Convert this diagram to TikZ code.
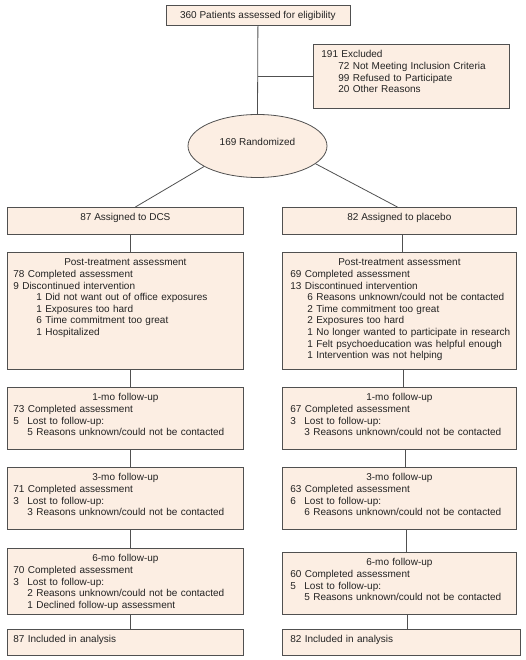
\documentclass[tikz,border=0pt]{standalone}
\usepackage{fontspec}
\setmainfont{Liberation Sans}
\usetikzlibrary{shapes.geometric}
\definecolor{boxfill}{RGB}{252,238,227}
\definecolor{edge}{RGB}{80,80,80}
\definecolor{ink}{RGB}{35,35,35}
\tikzset{
  box/.style={rectangle,draw=edge,fill=boxfill,line width=0.8pt,anchor=north west,
    inner xsep=6pt,inner ysep=0pt,align=left,text height=13.5pt,text=ink,
    font=\fontsize{10}{11.6}\selectfont},
  link/.style={draw=edge,line width=0.8pt}
}
\begin{document}
\begin{tikzpicture}[x=1pt,y=-1pt]
  \useasboundingbox (0,0) rectangle (525,660);
  % draw screening box
  \node at(165.5,5)[box,align=center,minimum width=184pt,text depth=6.5pt](elig){360 Patients assessed for eligibility};
  % draw excluded box
  \node at(313,44)[box,inner xsep=8pt,text width=180pt,text depth=50.5pt](excl){191 Excluded\\
    \hspace*{17pt}72 Not Meeting Inclusion Criteria\\
    \hspace*{17pt}99 Refused to Participate\\
    \hspace*{17pt}20 Other Reasons};
  % draw randomisation ellipse
  \node at(257.5,146)[ellipse,draw=edge,fill=boxfill,line width=0.8pt,minimum width=139pt,minimum height=63pt,
    inner sep=0pt,text=ink,font=\fontsize{10}{11.6}\selectfont,text height=7.2pt,text depth=8pt](rand){169 Randomized};
  % draw the two arms
  \node at(7,207)[box,align=center,minimum width=236pt,text depth=13.5pt](dcs){87 Assigned to DCS};
  \node at(282,207)[box,align=center,minimum width=234pt,text depth=13.5pt](plc){82 Assigned to placebo};
  % draw post-treatment boxes
  \node at(7,252)[box,text width=224pt,text depth=103.5pt](dpost){\makebox[\hsize]{Post-treatment assessment}\\
    78 Completed assessment\\
    9 Discontinued intervention\\
    \hspace*{23pt}1 Did not want out of office exposures\\
    \hspace*{23pt}1 Exposures too hard\\
    \hspace*{23pt}6 Time commitment too great\\
    \hspace*{23pt}1 Hospitalized};
  \node at(282,252)[box,inner xsep=8pt,text width=218pt,text depth=103.5pt](plpost){\makebox[\hsize]{Post-treatment assessment}\\
    69 Completed assessment\\
    13 Discontinued intervention\\
    \hspace*{17pt}6 Reasons unknown/could not be contacted\\
    \hspace*{17pt}2 Time commitment too great\\
    \hspace*{17pt}2 Exposures too hard\\
    \hspace*{17pt}\mbox{1 No longer wanted to participate in research}\\
    \hspace*{17pt}1 Felt psychoeducation was helpful enough\\
    \hspace*{17pt}1 Intervention was not helping};
  % draw 1-mo follow-up boxes
  \node at(7,387)[box,text width=224pt,text depth=48.5pt](dmo1){\makebox[\hsize]{1-mo follow-up}\\
    73 Completed assessment\\
    \makebox[14pt][l]{5}Lost to follow-up:\\
    \hspace*{14pt}5 Reasons unknown/could not be contacted};
  \node at(282,387)[box,inner xsep=8pt,text width=218pt,text depth=48.5pt](plmo1){\makebox[\hsize]{1-mo follow-up}\\
    67 Completed assessment\\
    \makebox[14pt][l]{3}Lost to follow-up:\\
    \hspace*{14pt}3 Reasons unknown/could not be contacted};
  % draw 3-mo follow-up boxes
  \node at(7,467)[box,text width=224pt,text depth=48.5pt](dmo3){\makebox[\hsize]{3-mo follow-up}\\
    71 Completed assessment\\
    \makebox[14pt][l]{3}Lost to follow-up:\\
    \hspace*{14pt}3 Reasons unknown/could not be contacted};
  \node at(282,467)[box,inner xsep=8pt,text width=218pt,text depth=48.5pt](plmo3){\makebox[\hsize]{3-mo follow-up}\\
    63 Completed assessment\\
    \makebox[14pt][l]{6}Lost to follow-up:\\
    \hspace*{14pt}6 Reasons unknown/could not be contacted};
  % draw 6-mo follow-up boxes
  \node at(7,548)[box,text width=224pt,text depth=52.5pt](dmo6){\makebox[\hsize]{6-mo follow-up}\\
    70 Completed assessment\\
    \makebox[14pt][l]{3}Lost to follow-up:\\
    \hspace*{14pt}2 Reasons unknown/could not be contacted\\
    \hspace*{14pt}1 Declined follow-up assessment};
  \node at(282,552)[box,inner xsep=8pt,text width=218pt,text depth=48.5pt](plmo6){\makebox[\hsize]{6-mo follow-up}\\
    60 Completed assessment\\
    \makebox[14pt][l]{5}Lost to follow-up:\\
    \hspace*{14pt}5 Reasons unknown/could not be contacted};
  % draw analysis boxes
  \node at(7,629)[box,text width=224pt,text depth=12.5pt](dana){87 Included in analysis};
  \node at(282,629)[box,inner xsep=8pt,text width=222pt,text depth=12.5pt](plana){82 Included in analysis};
  % draw connectors
  \draw[link] (elig.south) -- (rand.north);
  \draw[link] (elig.south |- excl.west) -- (excl.west);
  \draw[link] (rand.201) -- ([xshift=10pt]dcs.north);
  \draw[link] (rand.343) -- ([xshift=-2pt]plc.north);
  \foreach \a/\b in {dcs/dpost,dpost/dmo1,dmo1/dmo3,dmo3/dmo6,dmo6/dana}
    \draw[link] ([xshift=5pt]\a.south) -- ([xshift=5pt]\a.south |- \b.north);
  \foreach \a/\b/\s in {plc/plpost/3pt,plpost/plmo1/4pt,plmo1/plmo3/6pt,plmo3/plmo6/7pt,plmo6/plana/8pt}
    \draw[link] ([xshift=\s]\a.south) -- ([xshift=\s]\a.south |- \b.north);
\end{tikzpicture}
\end{document}
